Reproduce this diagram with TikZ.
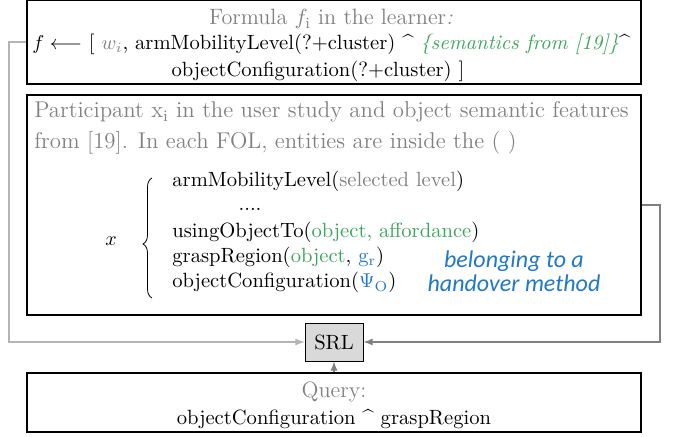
\documentclass[tikz,border=0pt]{standalone}
\usepackage{fontspec}
\usepackage{tikz}
\usetikzlibrary{
    decorations.pathreplacing,
    arrows,
    positioning,
    calc
}
\newfontfamily\calib{Carlito}
\definecolor{fgray}{HTML}{808080}
\definecolor{lgray}{HTML}{B4B4B4}
\definecolor{fgreen}{HTML}{3BA55C}
\definecolor{fblue}{HTML}{1F78C8}
\definecolor{srlfill}{HTML}{D9D9D9}

\begin{document}
\begin{tikzpicture}[x=0.5pt, y=-0.5pt,
    font=\fontsize{10.3}{12}\selectfont,
    box/.style={draw, line width=1pt, minimum width=307pt, inner sep=0pt},
    txt/.style={inner sep=0pt, anchor=base west},
    ctxt/.style={inner sep=0pt, anchor=base},
    head/.style={text=fgray, font=\fontsize{11.1}{13}\selectfont},
    para/.style={txt, text=fgray, font=\fontsize{11.4}{14}\selectfont},
    blue/.style={ctxt, text=fblue, font=\calib\itshape\fontsize{12}{14}\selectfont}]
    \useasboundingbox (0,0) rectangle (678,437);

    % frames
    \node[box, minimum height=42pt] (learner) at (334,42) {};
    \node[box, minimum height=110pt] (study) at (334,205) {};
    \node[box, minimum height=29.5pt] (query) at (334,402.5) {};
    \node[draw, fill=srlfill, minimum width=29pt, minimum height=19pt, inner sep=0pt] (srl) at (334,342) {SRL};

    % formula in the learner
    \node[ctxt, head] (ftitle) at (331,25) {Formula $f_{\mathrm{i}}$ in the learner\textit{:}};
    \node[txt] (fline) at (32,50) {$f\longleftarrow$ [ \textcolor{fgray}{$w_i$}, armMobilityLevel(?+cluster) \textasciicircum\ \textcolor{fgreen}{\itshape\{semantics from [19]\}}\textasciicircum};
    \node[ctxt] (fconf) at (318,77) {objectConfiguration(?+cluster) ]};

    % participant
    \node[para] (ptitle) at (34,118) {Participant x$_{\mathrm{i}}$ in the user study and object semantic features};
    \node[para] (pfrom) at (34,149) {from [19]. In each FOL, entities are inside the ( )};
    \node[txt] (px) at (105,246) {$x$};
    \draw[decorate, decoration={brace, amplitude=4.5pt, aspect=0.45}] (152,298) -- (152,178);
    \node[txt] (arm) at (172,187) {armMobilityLevel(\textcolor{fgray}{selected level})};
    \node[ctxt] (dots) at (250,211) {....};
    \node[txt] (using) at (172,238) {usingObjectTo(\textcolor{fgreen}{object, affordance})};
    \node[txt] (grasp) at (172,263) {graspRegion(\textcolor{fgreen}{object}, \textcolor{fblue}{g$_{\mathrm{r}}$})};
    \node[txt] (oconf) at (172,288) {objectConfiguration(\textcolor{fblue}{$\Psi_{\mathrm{O}}$})};
    \node[blue] (belong) at (514,268) {belonging to a};
    \node[blue] (hmethod) at (514,292) {handover method};

    % query
    \node[ctxt, head] (qtitle) at (334,397) {Query:};
    \node[ctxt] (qline) at (334,424) {objectConfiguration \textasciicircum\ graspRegion};

    % connectors
    \draw[lgray, line width=0.6pt, -latex] (learner.west) -- ++(-17,0) |- (srl.west);
    \draw[fgray, line width=0.6pt, -latex] (study.east) -- ++(18,0) |- (srl.east);
    \draw[fgray, line width=0.6pt, -latex] (query.north) -- (srl.south);
\end{tikzpicture}
\end{document}
